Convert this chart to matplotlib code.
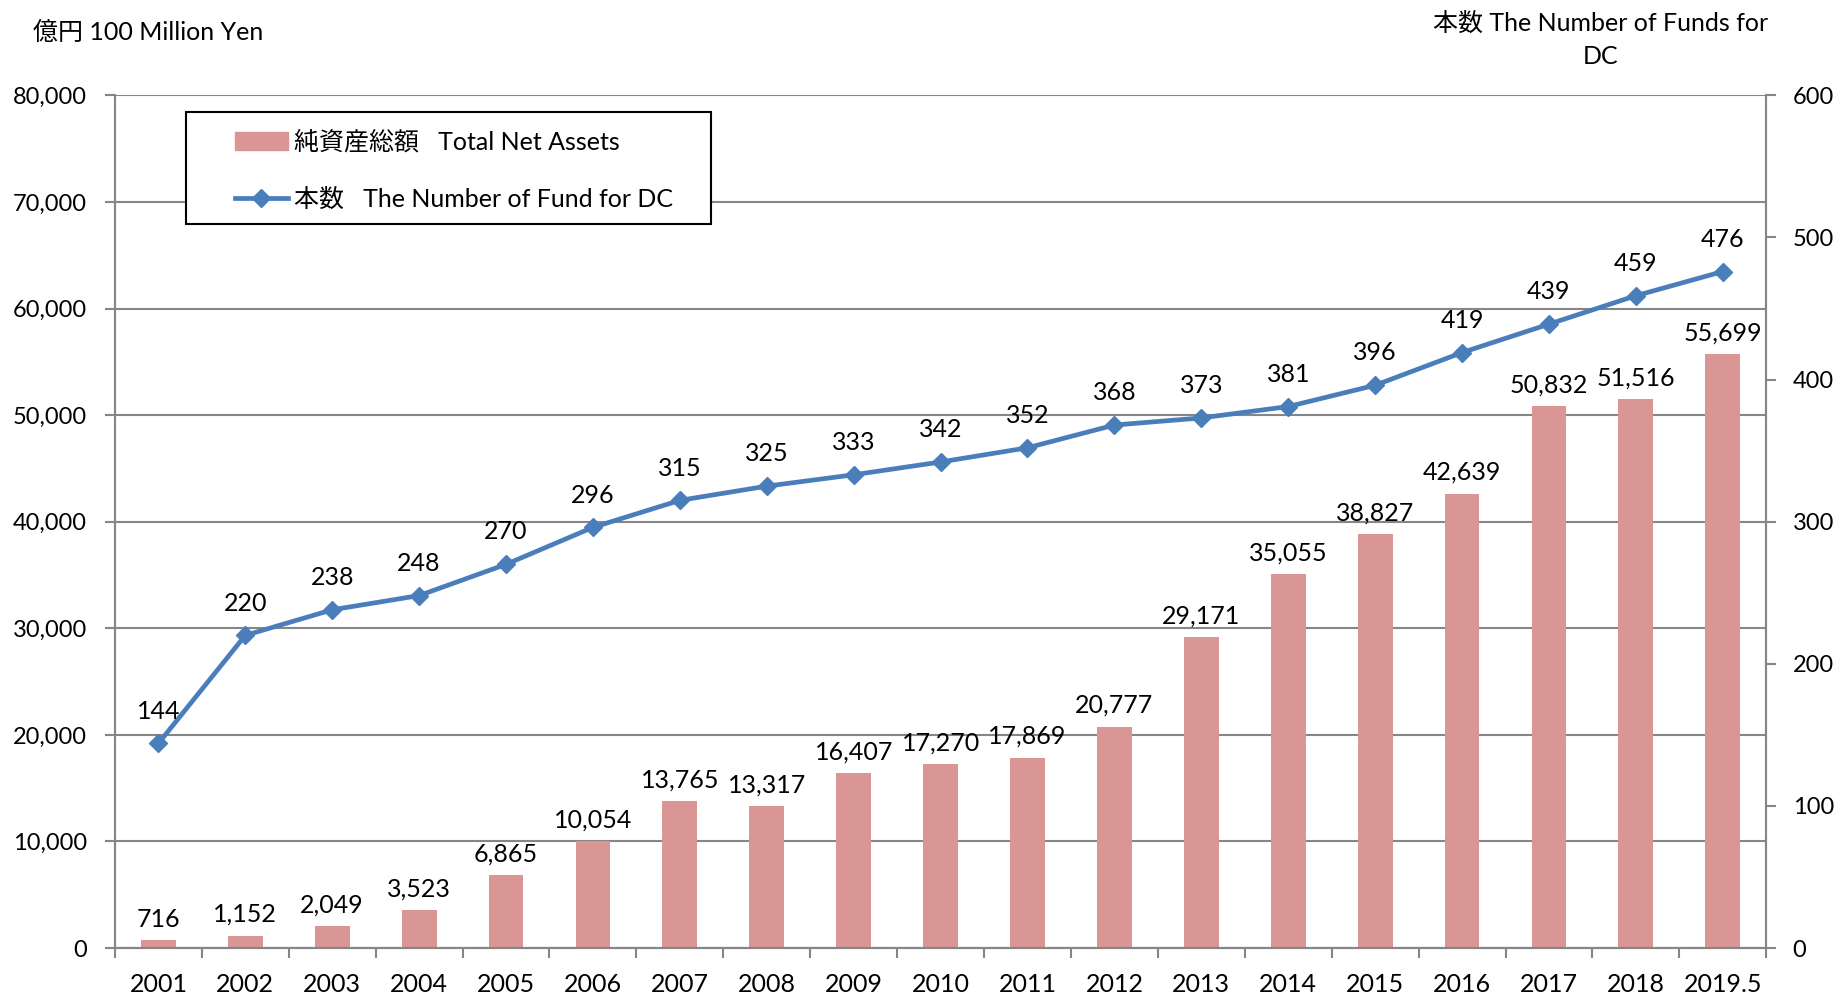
import matplotlib.pyplot as plt
from matplotlib.patches import Patch, Rectangle
from matplotlib.lines import Line2D
from matplotlib.ticker import FuncFormatter, MultipleLocator

plt.rcParams["font.family"] = ["Lato", "Noto Sans CJK JP", "DejaVu Sans"]

years = ["2001", "2002", "2003", "2004", "2005", "2006", "2007", "2008", "2009",
         "2010", "2011", "2012", "2013", "2014", "2015", "2016", "2017", "2018", "2019.5"]
net_assets = [716, 1152, 2049, 3523, 6865, 10054, 13765, 13317, 16407,
              17270, 17869, 20777, 29171, 35055, 38827, 42639, 50832, 51516, 55699]
fund_count = [144, 220, 238, 248, 270, 296, 315, 325, 333,
              342, 352, 368, 373, 381, 396, 419, 439, 459, 476]

bar_color = "#D99694"
line_color = "#4A7EBB"
axis_grey = "#868686"
fs = 18

fig = plt.figure(figsize=(18.36, 9.93), dpi=100)
ax = fig.add_axes([0.0626, 0.0453, 0.8994, 0.8587])
ax2 = ax.twinx()

x = list(range(len(years)))
ax.bar(x, net_assets, width=0.4, color=bar_color, zorder=2)
for xi, v in zip(x, net_assets):
    ax.annotate(f"{v:,}", (xi, v), textcoords="offset points", xytext=(0, 7),
                ha="center", va="bottom", fontsize=fs)

ax2.plot(x, fund_count, color=line_color, lw=3.4, marker="D", markersize=9, zorder=3)
for xi, v in zip(x, fund_count):
    ax2.annotate(f"{v}", (xi, v), textcoords="offset points", xytext=(0, 15),
                 ha="center", va="bottom", fontsize=fs)

ax.set_xlim(-0.5, len(years) - 0.5)
ax.set_ylim(0, 80000)
ax2.set_ylim(0, 600)
ax.yaxis.set_major_locator(MultipleLocator(10000))
ax.yaxis.set_major_formatter(FuncFormatter(lambda v, p: f"{int(v):,}"))
ax2.yaxis.set_major_locator(MultipleLocator(100))

ax.set_xticks(x)
ax.set_xticklabels(years)
ax.set_xticks([i - 0.5 for i in range(len(years) + 1)], minor=True)
ax.tick_params(axis="x", which="major", length=0, labelsize=fs, pad=18)
ax.tick_params(axis="x", which="minor", length=7, color=axis_grey, width=1.5)
ax.tick_params(axis="y", length=7, color=axis_grey, width=1.5, labelsize=17, pad=13)
ax2.tick_params(axis="y", length=7, color=axis_grey, width=1.5, labelsize=17, pad=12)

ax.grid(axis="y", color=axis_grey, lw=1.5, zorder=0)
ax.set_axisbelow(True)
for a in (ax, ax2):
    a.spines["top"].set_visible(False)
    for s in ("left", "right", "bottom"):
        a.spines[s].set_color(axis_grey)
        a.spines[s].set_linewidth(1.5)

fig.text(0.018, 0.967, "億円 100 Million Yen", fontsize=fs, ha="left", va="center")
fig.text(0.872, 0.96, "本数 The Number of Funds for\nDC", fontsize=fs,
         ha="center", va="center", linespacing=1.55)

# legend box drawn separately so the handles can sit further in from the frame
fig.patches.append(Rectangle((0.1013, 0.7744), 0.286, 0.1128, transform=fig.transFigure,
                             fill=True, facecolor="white", edgecolor="black",
                             lw=1.5, zorder=5))
handles = [Patch(color=bar_color),
           Line2D([], [], color=line_color, lw=3.4, marker="D", markersize=9)]
labels = ["純資産総額   Total Net Assets", "本数   The Number of Fund for DC"]
leg = fig.legend(handles, labels, loc="upper left", bbox_to_anchor=(0.128, 0.869),
                 fontsize=fs, frameon=False, handlelength=2.1, handletextpad=0.25,
                 labelspacing=1.35, borderpad=0, borderaxespad=0)
leg.set_zorder(6)

fig.savefig("out.png", dpi=100)
